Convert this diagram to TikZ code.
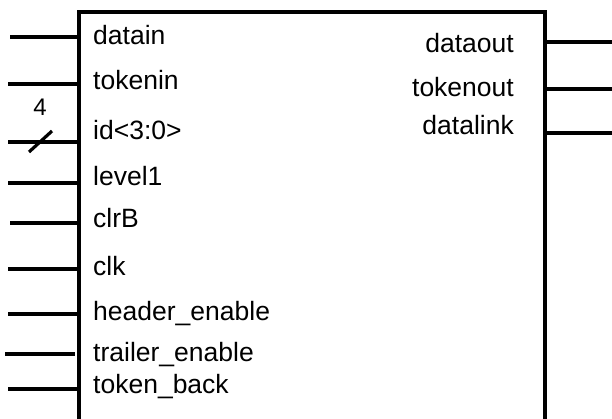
\documentclass[tikz,border=0pt]{standalone}
\usepackage{fontspec}
\setmainfont{Liberation Sans}
\begin{document}
\begin{tikzpicture}[x=1pt,y=-1pt,
  wire/.style={line width=3.2pt},
  boxline/.style={line width=3.4pt},
  pinl/.style={anchor=base west,inner sep=0pt,font=\fontsize{26.5}{29}\selectfont},
  pinr/.style={anchor=base east,inner sep=0pt,font=\fontsize{26.5}{29}\selectfont},
  buswidth/.style={anchor=base,inner sep=0pt,font=\fontsize{24}{26}\selectfont}]
\useasboundingbox (0,0) rectangle (612,419);
% block
\coordinate (bl) at (79,421);
\coordinate (tl) at (79,12);
\coordinate (tr) at (545,12);
\coordinate (br) at (545,421);
\draw[boxline] (bl) -- (tl) -- (tr) -- (br);
% left pins
\coordinate (a1) at (10,37);  \coordinate (b1) at (79,37);
\coordinate (a2) at (8,84);   \coordinate (b2) at (79,84);
\coordinate (a3) at (8,142);  \coordinate (b3) at (79,142);
\coordinate (a4) at (8,183);  \coordinate (b4) at (79,183);
\coordinate (a5) at (10,223); \coordinate (b5) at (79,223);
\coordinate (a6) at (8,269);  \coordinate (b6) at (79,269);
\coordinate (a7) at (8,314);  \coordinate (b7) at (79,314);
\coordinate (a8) at (5,354);  \coordinate (b8) at (75,354);
\coordinate (a9) at (8,389);  \coordinate (b9) at (79,389);
\foreach \i in {1,...,9} \draw[wire] (a\i) -- (b\i);
% bus slash
\coordinate (s1) at (29,152);
\coordinate (s2) at (52,131);
\draw[wire] (s1) -- (s2);
\node[buswidth] (w) at (40,116) {4};
% right pins
\coordinate (c1) at (545,42);  \coordinate (d1) at (612,42);
\coordinate (c2) at (545,89);  \coordinate (d2) at (612,89);
\coordinate (c3) at (545,133); \coordinate (d3) at (612,133);
\foreach \i in {1,2,3} \draw[wire] (c\i) -- (d\i);
% labels
\node[pinl] (l1) at (93,45)  {datain};
\node[pinl] (l2) at (93,90)  {tokenin};
\node[pinl] (l3) at (93,140) {id<3:0>};
\node[pinl] (l4) at (93,186) {level1};
\node[pinl] (l5) at (93,228) {clrB};
\node[pinl] (l6) at (93,276) {clk};
\node[pinl] (l7) at (93,320) {header\_enable};
\node[pinl] (l8) at (93,361) {trailer\_enable};
\node[pinl] (l9) at (93,393) {token\_back};
\node[pinr] (r1) at (514,53)  {dataout};
\node[pinr] (r2) at (514,97)  {tokenout};
\node[pinr] (r3) at (514,135) {datalink};
\end{tikzpicture}
\end{document}
